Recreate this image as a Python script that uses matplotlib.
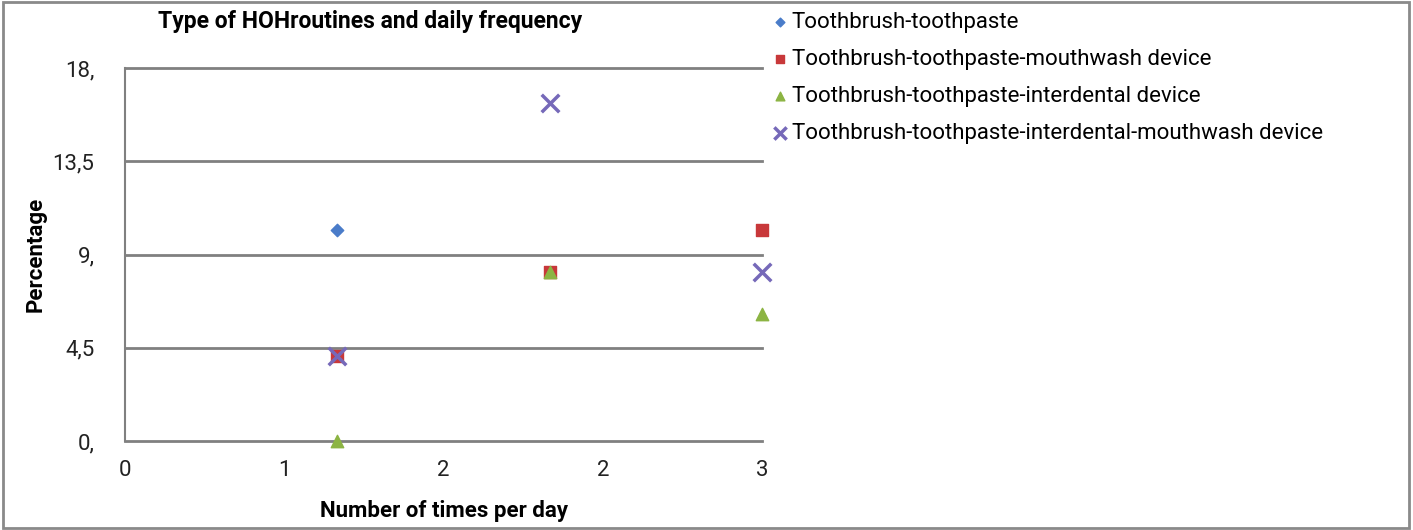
import matplotlib
matplotlib.use("Agg")
import matplotlib.pyplot as plt
from matplotlib.patches import Rectangle
from matplotlib.ticker import FixedLocator, FixedFormatter

plt.rcParams['font.family'] = ['Roboto', 'DejaVu Sans']

series_names = [
    "Toothbrush-toothpaste",
    "Toothbrush-toothpaste-mouthwash device",
    "Toothbrush-toothpaste-interdental device",
    "Toothbrush-toothpaste-interdental-mouthwash device",
]
x_brush = [1]
y_brush = [10.2]
x_mouth = [1, 2, 3]
y_mouth = [4.08, 8.16, 10.2]
x_inter = [1, 2, 3]
y_inter = [0.0, 8.16, 6.12]
x_all = [1, 2, 3]
y_all = [4.08, 16.33, 8.16]

y_ticks = [0, 4.5, 9, 13.5, 18]
y_tick_labels = ["0,", "4,5", "9,", "13,5", "18,"]
x_ticks = [0, 0.75, 1.5, 2.25, 3]
x_tick_labels = ["0", "1", "2", "2", "3"]

fig = plt.figure(figsize=(14.13, 5.30), dpi=100)
ax = fig.add_axes([125/1413, 89/530, (762-125)/1413, (441-68)/530])

kw = dict(clip_on=False)
ax.scatter(x_brush, y_brush, marker='D', s=40, color='#4a7cc9', label=series_names[0], zorder=3, **kw)
ax.scatter(x_mouth, y_mouth, marker='s', s=80, color='#c8383a', label=series_names[1], zorder=3, **kw)
ax.scatter(x_inter, y_inter, marker='^', s=80, color='#8cb443', label=series_names[2], zorder=4, **kw)
ax.scatter(x_all, y_all, marker='x', s=160, linewidths=2.5, color='#7669b9', label=series_names[3], zorder=5, **kw)

ax.set_xlim(0, 3)
ax.set_ylim(0, 18)
ax.yaxis.set_major_locator(FixedLocator(y_ticks))
ax.yaxis.set_major_formatter(FixedFormatter(y_tick_labels))
ax.xaxis.set_major_locator(FixedLocator(x_ticks))
ax.xaxis.set_major_formatter(FixedFormatter(x_tick_labels))
ax.tick_params(length=0, labelsize=16, colors='#222222')
ax.tick_params(axis='y', pad=22)
ax.tick_params(axis='x', pad=14)
ax.grid(axis='y', color='#808080', linewidth=2)
for gl in ax.get_ygridlines():
    gl.set_clip_on(False)
ax.set_axisbelow(True)
for s in ['top', 'right', 'bottom']:
    ax.spines[s].set_visible(False)
ax.spines['left'].set_color('#808080')
ax.spines['left'].set_linewidth(1.5)

ax.set_title("Type of HOHroutines and daily frequency", fontsize=16.5, fontweight='bold',
             loc='center', x=0.385, y=1.085)
ax.set_ylabel("Percentage", fontsize=16, fontweight='bold', labelpad=4)
ax.set_xlabel("Number of times per day", fontsize=16, fontweight='bold', labelpad=13)

fig.legend(loc='upper left', bbox_to_anchor=(0.539, 0.995), frameon=False, fontsize=16,
           handletextpad=0.05, handlelength=0.9, labelspacing=0.72, markerscale=0.7,
           borderaxespad=0)

fig.patches.append(Rectangle((0.002, 0.003), 0.995, 0.993, transform=fig.transFigure,
                             fill=False, edgecolor='#8a8a8a', linewidth=2))

fig.savefig("out.png", dpi=100)
